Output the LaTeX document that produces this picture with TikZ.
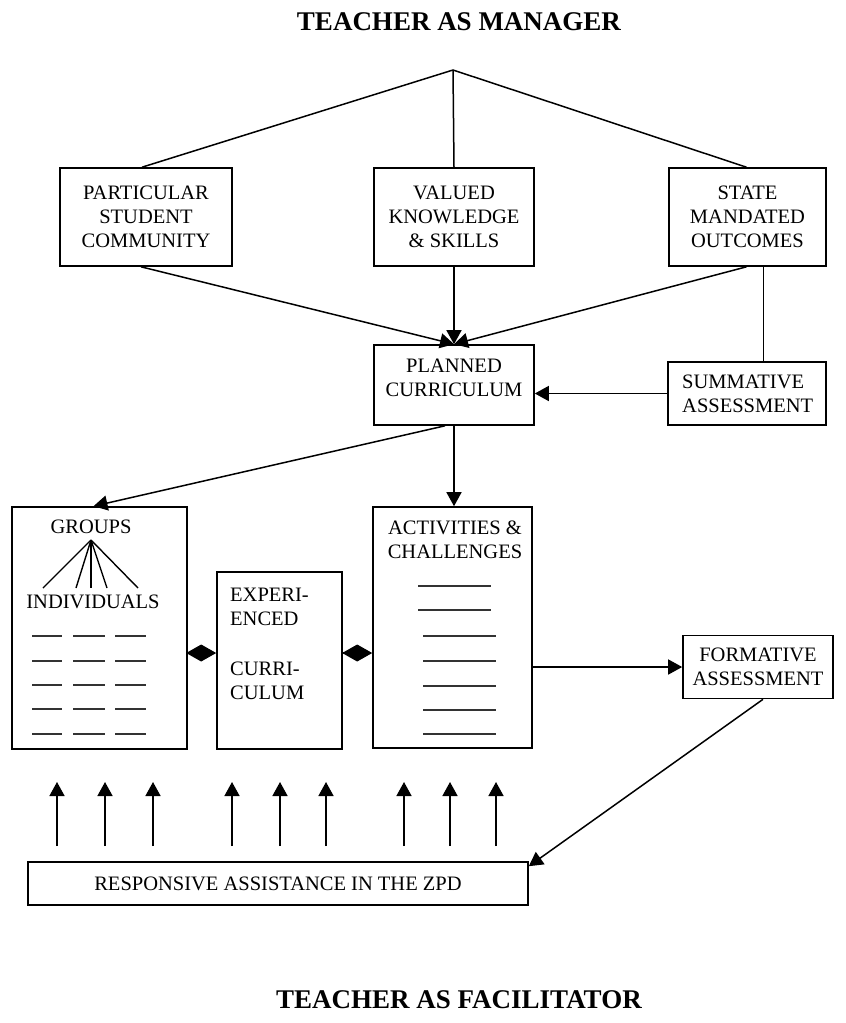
\documentclass[tikz,border=0pt]{standalone}
\usepackage{fontspec}
\setmainfont{Liberation Serif}
\usetikzlibrary{arrows.meta,calc}
\begin{document}
\begin{tikzpicture}[x=1pt,y=-1pt,
  box/.style={draw,line width=1.6pt,rectangle,inner sep=0pt},
  txt/.style={font=\fontsize{20.5}{24}\selectfont,align=center,inner sep=0pt},
  ttl/.style={font=\bfseries\fontsize{27}{32}\selectfont,inner sep=0pt},
  ln/.style={line width=1.5pt},
  thinln/.style={line width=1.4pt},
  dashln/.style={line width=1.2pt,black!80},
  arr/.style={line width=1.5pt,-{Triangle[length=14pt,width=15pt]}},
  dia/.style={line width=1.2pt,-{Diamond[length=30pt,width=17pt]}}
]
\useasboundingbox (0,0) rectangle (846,1023);

% titles
\node[ttl] (t1) at (459,22) {TEACHER AS MANAGER};
\node[ttl] (t2) at (459,1000) {TEACHER AS FACILITATOR};

\coordinate (apex) at (453,70);

% top boxes
\node[box,txt,minimum width=172pt,minimum height=98pt] (psc) at (146,217) {PARTICULAR\\STUDENT\\COMMUNITY};
\node[box,txt,minimum width=160pt,minimum height=98pt] (vks) at (454,217) {VALUED\\KNOWLEDGE\\\& SKILLS};
\node[box,txt,minimum width=157pt,minimum height=98pt] (smo) at (747.5,217) {STATE\\MANDATED\\OUTCOMES};

% planned + summative
\node[box,minimum width=160pt,minimum height=80pt] (plan) at (454,385) {};
\node[txt] (plantxt) at (454,378) {PLANNED\\CURRICULUM};
\node[box,minimum width=158pt,minimum height=63pt] (sum) at (747,393.5) {};
\node[txt,align=left,anchor=west] (sumtxt) at (682,394) {SUMMATIVE\\ASSESSMENT};

% middle boxes
\node[box,minimum width=175pt,minimum height=242pt] (groups) at (99.5,628) {};
\node[box,minimum width=125pt,minimum height=177pt] (exp) at (279.5,660.5) {};
\node[box,minimum width=159pt,minimum height=241pt] (act) at (452.5,627.5) {};
\node[box,txt,minimum width=150pt,minimum height=63pt] (form) at (758,667) {FORMATIVE\\ASSESSMENT};
\node[box,txt,minimum width=500pt,minimum height=43pt] (resp) at (278,883.5) {RESPONSIVE ASSISTANCE IN THE ZPD};

% groups contents
\node[txt] (gr) at (91,527) {GROUPS};
\node[txt] (ind) at (93,602) {INDIVIDUALS};
\coordinate (fan) at (91,540);
\foreach \x in {43,76,91,107,138} \draw[thinln] (fan) -- (\x,588);
\foreach \y in {636,661,685,709,734}
  \foreach \a/\b in {32/62,73/105,115/146}
    \draw[dashln] (\a,\y) -- (\b,\y);

% experienced text
\node[txt,align=left,anchor=north west] (exptxt) at (230,588) {EXPERI-\\ENCED\\[26pt]CURRI-\\CULUM};

% activities contents
\node[txt] (acttxt) at (455,540) {ACTIVITIES \&\\CHALLENGES};
\foreach \y in {586,610} \draw[dashln] (418,\y) -- (491,\y);
\foreach \y in {636,661,686,710,734} \draw[dashln] (423,\y) -- (496,\y);

% top connectors
\draw[ln] (apex) -- ([xshift=-4pt]psc.north);
\draw[ln] (apex) -- (vks.north);
\draw[ln] (apex) -- ([xshift=-1pt]smo.north);
\draw[arr] ([xshift=-5pt]psc.south) -- (plan.north);
\draw[arr] (vks.south) -- (plan.north);
\draw[arr] ([xshift=-1pt]smo.south) -- (plan.north);
\draw[ln] ([xshift=16pt]smo.south) -- ([xshift=16pt]smo.south |- sum.north);
\draw[arr] (sum.west) -- (sum.west -| plan.east);

% planned to middle
\draw[arr] ([xshift=-9pt]plan.south) -- ([xshift=-6pt]groups.north);
\draw[arr] (plan.south) -- (plan.south |- act.north);

% diamonds
\coordinate (d1) at (200,653);
\draw[dia] (groups.east |- d1) -- (exp.west |- d1);
\draw[dia] (exp.east |- d1) -- (act.west |- d1);

% to formative
\coordinate (f1) at (600,667);
\draw[arr] (act.east |- f1) -- (form.west |- f1);
\draw[arr] ([xshift=5pt]form.south) -- ([yshift=-5pt]resp.north east);

% up arrows
\foreach \x in {57,105,153,232,280,326,404,450,496} {
  \coordinate (ub\x) at (\x,846);
  \coordinate (ut\x) at (\x,782);
  \draw[arr] (ub\x) -- (ut\x);
}
\end{tikzpicture}
\end{document}
